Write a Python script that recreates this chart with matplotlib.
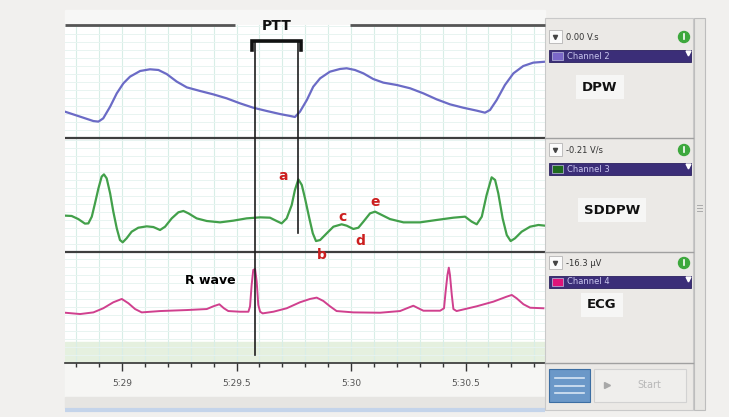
import numpy as np
import matplotlib.pyplot as plt
from matplotlib.patches import Rectangle, Circle
from matplotlib.transforms import blended_transform_factory
from matplotlib.ticker import MultipleLocator, FuncFormatter

# time in seconds (329 s == 5:29), amplitudes in display units (0-100 per channel)
dpw_t = [328.751, 328.817, 328.875, 328.897, 328.918, 328.948, 328.977, 329.006,
         329.035, 329.079, 329.122, 329.159, 329.195, 329.239, 329.283, 329.341,
         329.399, 329.457, 329.515, 329.573, 329.632, 329.690, 329.734, 329.755,
         329.777, 329.807, 329.835, 329.865, 329.908, 329.952, 329.981, 330.017,
         330.054, 330.097, 330.141, 330.200, 330.258, 330.316, 330.374, 330.432,
         330.490, 330.549, 330.585, 330.607, 330.636, 330.672, 330.709, 330.752,
         330.796, 330.847]
dpw_v = [23.3, 18.9, 15.0, 14.5, 17.4, 27.7, 39.5, 48.4, 54.3, 59.3, 60.8, 60.2,
         56.6, 49.9, 44.8, 41.6, 38.6, 35.1, 30.7, 26.8, 23.9, 21.2, 19.5, 18.6,
         23.3, 33.6, 45.4, 52.8, 58.7, 61.1, 61.7, 60.2, 57.2, 52.2, 49.0, 46.9,
         44.0, 39.5, 34.2, 29.8, 26.8, 24.2, 22.4, 24.8, 33.6, 46.9, 57.2, 63.7,
         66.7, 67.5]

sd_t = [328.751, 328.780, 328.809, 328.838, 328.853, 328.868, 328.882, 328.897,
        328.911, 328.921, 328.933, 328.948, 328.962, 328.977, 328.991, 329.003,
        329.020, 329.042, 329.071, 329.108, 329.137, 329.166, 329.188, 329.217,
        329.246, 329.268, 329.290, 329.326, 329.370, 329.428, 329.486, 329.544,
        329.603, 329.646, 329.675, 329.697, 329.719, 329.741, 329.755, 329.770,
        329.785, 329.799, 329.818, 329.833, 329.847, 329.865, 329.894, 329.923,
        329.959, 329.981, 330.010, 330.032, 330.054, 330.083, 330.105, 330.134,
        330.170, 330.229, 330.301, 330.374, 330.447, 330.498, 330.527, 330.549,
        330.571, 330.592, 330.614, 330.629, 330.643, 330.662, 330.680, 330.697,
        330.716, 330.745, 330.782, 330.818, 330.847]
sd_v = [31.9, 31.6, 28.9, 24.9, 25.1, 31.0, 42.7, 55.8, 66.1, 68.1, 64.6, 51.5,
        35.4, 20.8, 10.5, 8.5, 12.0, 17.8, 21.3, 22.5, 21.9, 19.3, 22.2, 29.5,
        34.8, 36.0, 33.9, 29.5, 27.2, 26.0, 27.5, 29.5, 30.4, 30.1, 27.2, 25.1,
        29.5, 41.2, 54.4, 63.7, 58.8, 47.1, 29.5, 16.4, 9.6, 10.5, 16.4, 22.2,
        24.3, 23.1, 20.2, 21.3, 26.6, 33.9, 35.4, 32.5, 28.9, 26.0, 26.0, 28.1,
        30.1, 31.0, 26.6, 24.3, 31.0, 50.0, 65.5, 63.2, 51.5, 29.5, 14.9, 9.6,
        12.0, 17.8, 22.2, 23.7, 23.1]

ecg_t = [328.751, 328.817, 328.875, 328.918, 328.962, 328.999, 329.028, 329.057,
         329.086, 329.166, 329.282, 329.370, 329.399, 329.425, 329.445, 329.464,
         329.515, 329.552, 329.559, 329.566, 329.573, 329.581, 329.588, 329.595,
         329.603, 329.614, 329.661, 329.719, 329.777, 329.821, 329.850, 329.879,
         329.908, 329.937, 330.010, 330.127, 330.214, 330.250, 330.272, 330.294,
         330.316, 330.389, 330.406, 330.413, 330.421, 330.427, 330.432, 330.440,
         330.447, 330.461, 330.549, 330.622, 330.680, 330.702, 330.723, 330.753,
         330.782, 330.840]
ecg_v = [45.3, 44.1, 45.6, 49.3, 54.7, 57.7, 53.8, 48.6, 45.6, 46.8, 47.7, 48.6,
         51.1, 52.9, 49.3, 46.8, 46.2, 46.2, 51.1, 70.3, 83.8, 84.7, 73.3, 52.3,
         46.2, 44.7, 46.2, 49.3, 54.7, 57.7, 58.9, 55.9, 51.1, 46.8, 45.6, 45.3,
         46.8, 49.8, 51.6, 49.3, 47.1, 47.1, 49.3, 64.3, 79.3, 85.9, 79.3, 61.3,
         48.6, 46.8, 51.1, 55.3, 59.8, 61.3, 58.3, 52.9, 49.8, 49.3]

# SDDPW wave points a-e: (time, value)
wave_pts = {"a": (329.703, 66.7), "b": (329.873, -2.6), "c": (329.961, 30.7),
            "d": (330.039, 9.6), "e": (330.105, 43.9)}

channels = ["Channel 2", "Channel 3", "Channel 4"]
readouts = ["0.00 V.s", "-0.21 V/s", "-16.3 \u00b5V"]
names = ["DPW", "SDDPW", "ECG"]
swatch = ["#7b68c8", "#1f6b1f", "#e0147a"]

t_min, t_max = 328.751, 330.847
ecg_arr, sd_arr = np.array(ecg_v), np.array(sd_v)
t_r = ecg_t[int(np.argmax(ecg_arr[:30]))]        # R wave of the first beat
t_a = sd_t[30 + int(np.argmax(sd_arr[30:50]))]   # peak "a" of SDDPW

W, H = 729, 417
fig = plt.figure(figsize=(W / 100, H / 100), dpi=100)
fig.patch.set_facecolor("#f1f0ee")


def box(x0, y0, x1, y1):
    return [x0 / W, 1 - y1 / H, (x1 - x0) / W, (y1 - y0) / H]


# background layer (pixel units) under the traces
bg = fig.add_axes([0, 0, 1, 1])
bg.set_xlim(0, W)
bg.set_ylim(H, 0)
bg.axis("off")
bg.set_zorder(-1)
bg.add_patch(Rectangle((65, 10), 480, 15, color="#f7f7f6"))
bg.add_patch(Rectangle((65, 363.5), 480, 33, color="#f6f6f4"))
bg.add_patch(Rectangle((65, 396.5), 480, 11, color="#e6e5e2"))
bg.plot([65, 545], [409.5, 409.5], color="#c4d4ea", lw=3, solid_capstyle="butt")

ax_dpw = fig.add_axes(box(65, 25, 545, 138))
ax_sd = fig.add_axes(box(65, 138, 545, 252))
ax_ecg = fig.add_axes(box(65, 252, 545, 363))

for ax, step in [(ax_dpw, 7.1), (ax_sd, 7.0), (ax_ecg, 7.2)]:
    ax.set_facecolor("white")
    ax.set_xlim(t_min, t_max)
    ax.set_ylim(0, 100)
    ax.set_xticks(np.arange(328.8, 330.85, 0.1))
    ax.set_yticks(np.arange(step, 100, step))
    ax.grid(True, axis="x", color="#d8eee7", lw=0.8)
    ax.grid(True, axis="y", color="#e8f4f1", lw=0.7)
    ax.tick_params(length=0, labelbottom=False, labelleft=False)
    for s in ax.spines.values():
        s.set_visible(False)

ax_ecg.axhspan(0, 19, color="#e5f0df", zorder=0.5)

ax_dpw.plot(dpw_t, dpw_v, color="#6b6bc6", lw=1.6, solid_joinstyle="round")
ax_sd.plot(sd_t, sd_v, color="#42a04a", lw=1.6, solid_joinstyle="round")
ax_ecg.plot(ecg_t, ecg_v, color="#d0408e", lw=1.4, solid_joinstyle="round")

# time axis
ax_ecg.spines["bottom"].set_visible(True)
ax_ecg.spines["bottom"].set_color("#333333")
ax_ecg.spines["bottom"].set_linewidth(1.2)
ax_ecg.xaxis.set_major_locator(MultipleLocator(0.5))
ax_ecg.xaxis.set_minor_locator(MultipleLocator(0.1))


def mmss(x, pos):
    m, s = divmod(round(x * 10) / 10, 60)
    return f"{int(m)}:{s:g}"


ax_ecg.xaxis.set_major_formatter(FuncFormatter(mmss))
ax_ecg.tick_params(axis="x", which="major", length=6, width=1, color="#333",
                   labelbottom=True, labelsize=6.5, labelcolor="#555", pad=5.5)
ax_ecg.tick_params(axis="x", which="minor", length=3, width=1, color="#333")
ax_ecg.grid(True, which="both", axis="x", color="#d8eee7", lw=0.8)

# overlay in pixel units for frame, cursors and side panel
ov = fig.add_axes([0, 0, 1, 1])
ov.set_xlim(0, W)
ov.set_ylim(H, 0)
ov.axis("off")
ov.patch.set_alpha(0)
ov.set_zorder(5)

ov.plot([65, 235], [25, 25], color="#555555", lw=2, solid_capstyle="butt")
ov.plot([350, 545], [25, 25], color="#555555", lw=2, solid_capstyle="butt")
for yy in (138, 252):
    ov.plot([65, 545], [yy, yy], color="#3e3e3e", lw=1.6, solid_capstyle="butt")

for k, (tx, vy) in wave_pts.items():
    ov.text(tx, vy, k, transform=ax_sd.transData, color="#cc1f1f", fontsize=10,
            fontweight="bold", ha="center", va="center")
ov.text(329.384, 73.9, "R wave", transform=ax_ecg.transData, fontsize=9,
        fontweight="bold", ha="center", va="center")

# PTT cursors
bt = blended_transform_factory(ax_ecg.transData, ov.transData)
ov.plot([t_r, t_r], [41, 355], color="#1e1e1e", lw=1.2, transform=bt)
ov.plot([t_a, t_a], [41, 233], color="#1e1e1e", lw=1.2, transform=bt)
dt = 0.012
ov.plot([t_r - dt, t_r - dt, t_a + dt, t_a + dt], [50, 41, 41, 50],
        color="#111111", lw=2.6, transform=bt, solid_joinstyle="miter")
ov.text((t_r + t_a) / 2, 26, "PTT", transform=bt, ha="center", va="center",
        fontsize=10, fontweight="bold", color="#111")

# side panel
ov.add_patch(Rectangle((545, 18), 148, 392, facecolor="#ebe9e6",
                       edgecolor="#c9c9c9", lw=0.8))
ov.add_patch(Rectangle((694, 18), 11, 392, facecolor="#e7e6e3",
                       edgecolor="#bdbdbd", lw=0.8))
for yy in (205, 208, 211):
    ov.plot([697, 702], [yy, yy], color="#aaaaaa", lw=0.7)
for yy in (138, 252, 363):
    ov.plot([545, 693], [yy, yy], color="#a0a0a0", lw=1.0)

head_y = [37, 150, 263]
label_y = [87, 210, 305]
label_x = [600, 612, 602]
for i in range(3):
    h = head_y[i]
    ov.add_patch(Rectangle((549, h - 7), 13, 13, facecolor="#fbfbfb",
                           edgecolor="#b5b5b5", lw=0.6))
    ov.plot([555.5], [h - 0.5], marker="v", ms=3, color="#444")
    ov.text(566, h, readouts[i], fontsize=6, color="#333", va="center")
    ov.add_patch(Circle((684, h), 5.5, color="#3da83d"))
    ov.plot([684, 684], [h - 3, h + 1.5], color="white", lw=1.2)
    ov.add_patch(Rectangle((549, h + 13), 142, 12, facecolor="#3b2e78",
                           edgecolor="#2a2060", lw=0.6))
    ov.add_patch(Rectangle((552, h + 15), 11, 8, facecolor=swatch[i],
                           edgecolor="#c0c0e0", lw=0.5))
    ov.text(567, h + 19, channels[i], fontsize=6, color="#c9c6ee", va="center")
    ov.plot([688], [h + 16], marker="v", ms=3.5, color="white")
    ov.text(label_x[i], label_y[i], names[i], fontsize=9.5, fontweight="bold",
            ha="center", va="center", color="#111",
            bbox=dict(boxstyle="square,pad=0.45", fc="#f6f6f5", ec="none"))

# record buttons
ov.add_patch(Rectangle((549, 369), 41, 33, facecolor="#6b98c8",
                       edgecolor="#3c6ea3", lw=0.8))
for yy in (378, 386, 393):
    ov.plot([555, 584], [yy, yy], color="#d8e6f4", lw=1.2)
ov.add_patch(Rectangle((594, 369), 92, 33, facecolor="#efeeec",
                       edgecolor="#d2d2d2", lw=0.8))
ov.plot([607], [385], marker=">", ms=5, color="#a8a8a8")
ov.text(649, 385, "Start", fontsize=7, color="#b8b8b8", ha="center",
        va="center")

fig.savefig("out.png", dpi=100, facecolor=fig.get_facecolor())
